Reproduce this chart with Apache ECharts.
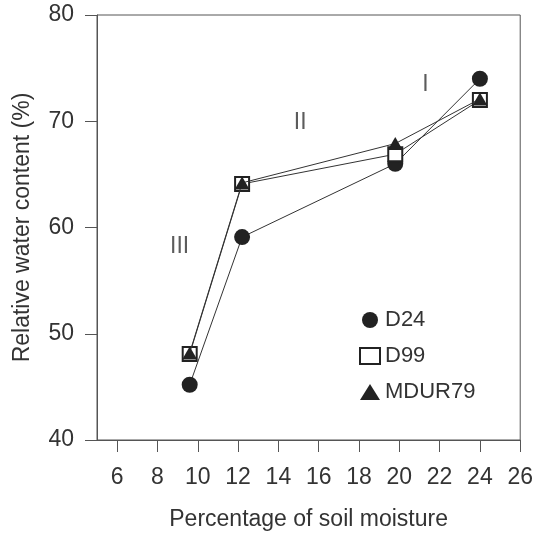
<!DOCTYPE html>
<html>
<head>
<meta charset="utf-8">
<script src="https://cdn.jsdelivr.net/npm/echarts@6/dist/echarts.min.js"></script>
<style>
html,body{margin:0;padding:0;background:#fff;}
#chart{width:536px;height:537px;}
</style>
</head>
<body>
<div id="chart"></div>
<script>
// Data
const soilMoisture = [9.6, 12.2, 19.8, 24.0];
const d24 = [45.2, 59.1, 66.0, 74.0];
const d99 = [48.1, 64.1, 66.9, 72.0];
const mdur79 = [48.2, 64.2, 67.9, 72.1];
const seriesNames = ['D24', 'D99', 'MDUR79'];
const xTicks = [6, 8, 10, 12, 14, 16, 18, 20, 22, 24, 26];
const yTicks = [40, 50, 60, 70, 80];
const phaseLabels = ['III', 'II', 'I'];
const phaseX = [9.1, 15.08, 21.3];
const phaseY = [58.2, 69.9, 73.4];

const FONT = '"Liberation Sans", Arial, sans-serif';
const TXT = '#333';
const LINE = '#333';
const INK = '#222';

function pairs(xs, ys) { return xs.map((x, i) => [x, ys[i]]); }

const chart = echarts.init(document.getElementById('chart'), null, {renderer: 'canvas'});
chart.setOption({
  animation: false,
  backgroundColor: '#fff',
  textStyle: {fontFamily: FONT},
  grid: {left: 97, right: 14, top: 15, bottom: 97, show: true, borderColor: '#555', borderWidth: 1, backgroundColor: 'transparent'},
  legend: {
    orient: 'vertical',
    left: 354,
    top: 304,
    itemWidth: 20,
    itemHeight: 16,
    itemGap: 14,
    selectedMode: false,
    textStyle: {fontFamily: FONT, fontSize: 22, color: TXT},
    data: [
      {name: seriesNames[0], icon: 'circle'},
      {name: seriesNames[1], icon: 'emptyRect', itemStyle: {borderWidth: 2}},
      {name: seriesNames[2], icon: 'triangle'}
    ]
  },
  xAxis: {
    type: 'value',
    min: 5,
    max: 26,
    name: 'Percentage of soil moisture',
    nameLocation: 'middle',
    nameGap: 68,
    nameTextStyle: {fontFamily: FONT, fontSize: 23, color: TXT},
    axisLine: {show: true, onZero: false, lineStyle: {color: '#555', width: 1}},
    axisTick: {show: true, inside: false, length: 12, customValues: xTicks, lineStyle: {color: '#555'}},
    axisLabel: {show: true, margin: 26, fontSize: 23, color: TXT, fontFamily: FONT, customValues: xTicks},
    splitLine: {show: false}
  },
  yAxis: {
    type: 'value',
    min: 40,
    max: 80,
    interval: 10,
    name: 'Relative water content (%)',
    nameLocation: 'middle',
    nameGap: 63,
    nameRotate: 90,
    nameTextStyle: {fontFamily: FONT, fontSize: 23, color: TXT},
    axisLine: {show: true, lineStyle: {color: '#555', width: 1}},
    axisTick: {show: true, inside: false, length: 12, lineStyle: {color: '#555'}},
    axisLabel: {show: true, margin: 23, fontSize: 23, color: TXT, fontFamily: FONT, customValues: yTicks},
    splitLine: {show: false}
  },
  series: [
    {
      name: seriesNames[0], type: 'line', data: pairs(soilMoisture, d24),
      symbol: 'circle', symbolSize: 16,
      itemStyle: {color: INK},
      lineStyle: {color: LINE, width: 1}, z: 3
    },
    {
      name: seriesNames[1], type: 'line', data: pairs(soilMoisture, d99),
      symbol: 'emptyRect', symbolSize: 14,
      itemStyle: {color: INK, borderWidth: 1.5},
      lineStyle: {color: LINE, width: 1}, z: 4
    },
    {
      name: seriesNames[2], type: 'line', data: pairs(soilMoisture, mdur79),
      symbol: 'triangle', symbolSize: [15, 13],
      itemStyle: {color: INK},
      lineStyle: {color: LINE, width: 1}, z: 5
    },
    {
      name: 'phases', type: 'scatter',
      data: phaseLabels.map((t, i) => ({value: [phaseX[i], phaseY[i]], name: t})),
      symbolSize: 0,
      silent: true,
      label: {show: true, position: 'inside', formatter: p => p.name, fontFamily: FONT, fontSize: 23, color: TXT}
    }
  ]
});
</script>
</body>
</html>
